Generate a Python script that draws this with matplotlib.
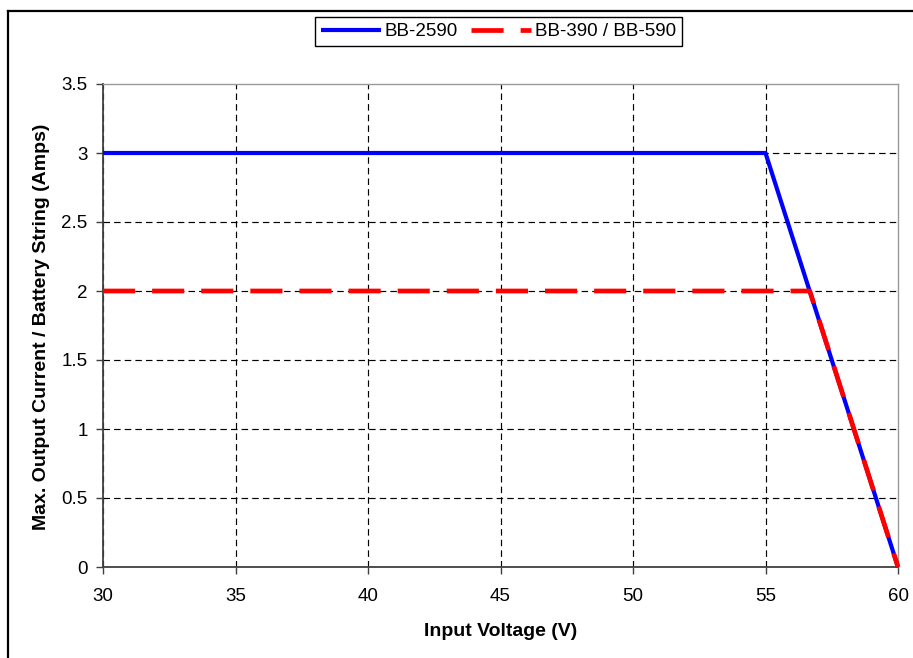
import numpy as np
import matplotlib
matplotlib.use('Agg')
from matplotlib import pyplot as plt
from matplotlib.lines import Line2D

plt.rcParams['font.family'] = ['Liberation Sans', 'DejaVu Sans']

# curve data
voltage_2590 = [30, 55, 60]
current_2590 = [3, 3, 0]
voltage_390 = [30, 56.67, 60]
current_390 = [2, 2, 0]

series_labels = ['BB-2590', 'BB-390 / BB-590']
x_ticks = [30, 35, 40, 45, 50, 55, 60]
y_ticks = [0, 0.5, 1, 1.5, 2, 2.5, 3, 3.5]

W, H = 913, 658
fig = plt.figure(figsize=(W / 100, H / 100), dpi=100)
ax = fig.add_axes([103 / W, 1 - 567 / H, 795 / W, 483 / H])

ax.plot(voltage_2590, current_2590, color='#0000FF', lw=3,
        solid_capstyle='butt', label=series_labels[0], zorder=3, clip_on=False)
ax.plot(voltage_390, current_390, color='#FF0000', lw=3.4,
        linestyle=(0, (6.8, 3.6)), label=series_labels[1], zorder=4, clip_on=False)

ax.set_xlim(30, 60)
ax.set_ylim(0, 3.5)
ax.set_xticks(x_ticks)
ax.set_yticks(y_ticks)
ax.set_xticklabels(['%g' % v for v in x_ticks])
ax.set_yticklabels(['%g' % v for v in y_ticks])

ax.set_axisbelow(True)
ax.grid(True, color='black', lw=0.85, linestyle=(0, (5.5, 3.5)))
# top / right grid lines sit on the frame
ax.yaxis.get_gridlines()[-1].set_visible(False)
ax.xaxis.get_gridlines()[-1].set_visible(False)

for s in ['left', 'bottom']:
    ax.spines[s].set_color('#404040')
    ax.spines[s].set_linewidth(1.3)
for s in ['top', 'right']:
    ax.spines[s].set_color('#999999')
    ax.spines[s].set_linewidth(1.0)

ax.tick_params(axis='both', direction='out', length=5, width=1, color='#404040',
               labelsize=13.5, labelcolor='black')
ax.tick_params(axis='x', pad=10)
ax.tick_params(axis='y', pad=6)

fig.text(501 / W, 1 - 631 / H, 'Input Voltage (V)', ha='center', va='center',
         fontsize=14, fontweight='bold')
fig.text(42 / W, 1 - 327 / H, 'Max. Output Current / Battery String (Amps)',
         ha='center', va='center', rotation=90, fontsize=14, fontweight='bold')

leg = ax.legend(loc='center', bbox_to_anchor=(498.5 / W, 1 - 31.5 / H),
                bbox_transform=fig.transFigure, ncol=2, fontsize=13.5,
                frameon=True, fancybox=False, framealpha=1, edgecolor='black',
                borderpad=0.3, handlelength=3.2, handletextpad=0.2,
                columnspacing=0.7, borderaxespad=0)
leg.get_frame().set_linewidth(1.0)

# outer chart border (only top and left edges are visible in the crop)
fig.add_artist(Line2D([7.5 / W, 1], [1 - 10.5 / H, 1 - 10.5 / H],
                      transform=fig.transFigure, color='black', lw=1.6))
fig.add_artist(Line2D([7.5 / W, 7.5 / W], [0, 1 - 10.5 / H],
                      transform=fig.transFigure, color='black', lw=1.6))

fig.savefig('out.png', dpi=100)
